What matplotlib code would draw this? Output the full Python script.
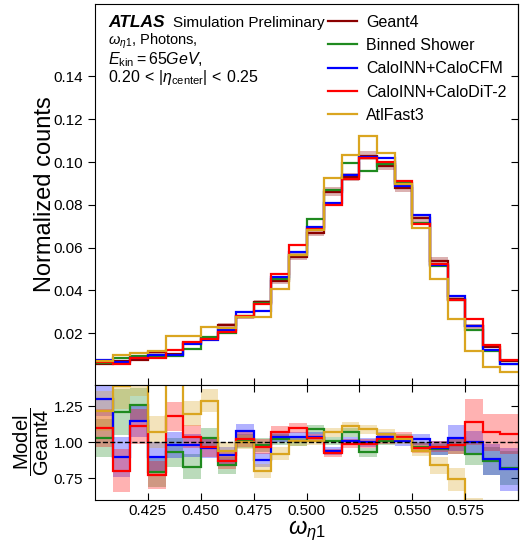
import numpy as np
import matplotlib.pyplot as plt

plt.rcParams['font.family'] = ['Liberation Sans', 'DejaVu Sans']
plt.rcParams['mathtext.fontset'] = 'custom'
plt.rcParams['mathtext.rm'] = 'Liberation Sans'
plt.rcParams['mathtext.it'] = 'Liberation Sans:italic'
plt.rcParams['mathtext.bf'] = 'Liberation Sans:bold'

# 24 bins between 0.40 and 0.60
edges = np.linspace(0.40, 0.60, 25)

# normalized counts
geant4 = [0.0057, 0.0070, 0.0074, 0.0110, 0.0101, 0.0153, 0.0176, 0.0236, 0.0276, 0.0345, 0.0444, 0.0558,
          0.0670, 0.0862, 0.0929, 0.1030, 0.0982, 0.0878, 0.0737, 0.0539, 0.0360, 0.0231, 0.0135, 0.0068]
geant4_err = [0.0004, 0.0005, 0.0005, 0.0006, 0.0006, 0.0007, 0.0008, 0.0009, 0.0010, 0.0011, 0.0013, 0.0015,
              0.0017, 0.0020, 0.0020, 0.0020, 0.0020, 0.0019, 0.0017, 0.0015, 0.0012, 0.0010, 0.0007, 0.0005]
binned = [0.0059, 0.0085, 0.0093, 0.0087, 0.0094, 0.0127, 0.0181, 0.0198, 0.0279, 0.0340, 0.0453, 0.0564,
          0.0733, 0.0871, 0.0994, 0.0958, 0.0990, 0.0904, 0.0715, 0.0512, 0.0353, 0.0213, 0.0117, 0.0056]
calo_cfm = [0.0074, 0.0063, 0.0085, 0.0099, 0.0099, 0.0150, 0.0169, 0.0215, 0.0298, 0.0302, 0.0462, 0.0580,
            0.0694, 0.0810, 0.0938, 0.1025, 0.1021, 0.0887, 0.0752, 0.0517, 0.0371, 0.0231, 0.0119, 0.0055]
calo_dit = [0.0063, 0.0056, 0.0082, 0.0085, 0.0119, 0.0159, 0.0170, 0.0205, 0.0282, 0.0335, 0.0475, 0.0614,
            0.0687, 0.0798, 0.0920, 0.1020, 0.1002, 0.0910, 0.0708, 0.0523, 0.0353, 0.0265, 0.0144, 0.0072]
atlfast3 = [0.0070, 0.0097, 0.0105, 0.0118, 0.0187, 0.0184, 0.0227, 0.0222, 0.0276, 0.0276, 0.0408, 0.0564,
            0.0680, 0.0925, 0.1031, 0.1123, 0.1041, 0.0896, 0.0693, 0.0453, 0.0266, 0.0117, 0.0042, 0.0018]

# model / Geant4
r_binned = [1.03, 1.21, 1.26, 0.79, 0.93, 0.83, 1.03, 0.84, 1.01, 0.98, 1.02, 1.01,
            1.09, 1.01, 1.07, 0.93, 1.01, 1.03, 0.97, 0.95, 0.98, 0.92, 0.87, 0.82]
r_cfm = [1.30, 0.90, 1.15, 0.90, 0.98, 0.98, 0.96, 0.91, 1.08, 0.875, 1.04, 1.04,
         1.04, 0.94, 1.01, 1.00, 1.04, 1.01, 1.02, 0.96, 1.03, 1.00, 0.88, 0.81]
r_dit = [1.10, 0.80, 1.11, 0.77, 1.18, 1.04, 0.965, 0.87, 1.02, 0.97, 1.07, 1.10,
         1.03, 0.925, 0.99, 0.99, 1.02, 1.04, 0.96, 0.97, 0.98, 1.14, 1.07, 1.06]
r_af3 = [1.22, 1.39, 1.45, 1.07, 1.85, 1.20, 1.29, 0.94, 1.00, 0.80, 0.92, 1.01,
         1.01, 1.07, 1.11, 1.09, 1.06, 1.02, 0.94, 0.84, 0.74, 0.51, 0.31, 0.26]

# ratio uncertainty (half width)
e_binned = [0.13, 0.16, 0.12, 0.10, 0.10, 0.09, 0.07, 0.06, 0.05, 0.05, 0.04, 0.035,
            0.03, 0.03, 0.03, 0.03, 0.03, 0.03, 0.035, 0.04, 0.06, 0.08, 0.10, 0.12]
e_cfm = [0.12, 0.14, 0.11, 0.10, 0.09, 0.08, 0.07, 0.06, 0.05, 0.05, 0.04, 0.035,
         0.03, 0.03, 0.03, 0.03, 0.03, 0.035, 0.04, 0.05, 0.09, 0.08, 0.11, 0.15]
e_dit = [0.13, 0.15, 0.12, 0.10, 0.10, 0.08, 0.07, 0.06, 0.05, 0.05, 0.04, 0.035,
         0.03, 0.03, 0.03, 0.03, 0.03, 0.03, 0.035, 0.04, 0.06, 0.16, 0.13, 0.14]
e_af3 = [0.14, 0.16, 0.13, 0.11, 0.12, 0.09, 0.08, 0.06, 0.05, 0.05, 0.045, 0.035,
         0.03, 0.03, 0.03, 0.03, 0.03, 0.03, 0.035, 0.06, 0.08, 0.10, 0.14, 0.18]

labels = ['Geant4', 'Binned Shower', 'CaloINN+CaloCFM', 'CaloINN+CaloDiT-2', 'AtlFast3']
colors = ['#8b0000', '#1f8a1f', '#0000ff', '#ff0000', '#daa520']

fig = plt.figure(figsize=(5.32, 5.44), dpi=100)
ax = fig.add_axes([0.1786, 0.2923, 0.7951, 0.7003])
axr = fig.add_axes([0.1786, 0.0818, 0.7951, 0.2105], sharex=ax)

g = np.array(geant4)
ge = np.array(geant4_err)
ax.stairs(g + ge, edges, baseline=g - ge, fill=True, color=colors[0], alpha=0.3, lw=0)
for vals, lab, c in zip([geant4, binned, calo_cfm, calo_dit, atlfast3], labels, colors):
    ax.stairs(vals, edges, baseline=None, color=c, lw=1.6, label=lab)

for r, e, c in zip([r_binned, r_cfm, r_dit, r_af3], [e_binned, e_cfm, e_dit, e_af3], colors[1:]):
    r = np.array(r)
    e = np.array(e)
    axr.stairs(r + e, edges, baseline=r - e, fill=True, color=c, alpha=0.3, lw=0)
for r, c in zip([r_binned, r_cfm, r_dit, r_af3], colors[1:]):
    axr.stairs(r, edges, baseline=None, color=c, lw=1.6)
axr.axhline(1.0, color='black', ls='--', lw=1.0)

ax.set_xlim(0.40, 0.60)
ax.set_ylim(-0.0043, 0.1739)
ax.set_yticks([0.02, 0.04, 0.06, 0.08, 0.10, 0.12, 0.14])
ax.set_ylabel('Normalized counts', fontsize=17)
ax.yaxis.set_label_coords(-0.093, 0.5)
ax.tick_params(axis='x', direction='in', labelbottom=False, length=5)
ax.tick_params(axis='y', direction='out', labelsize=11, length=5)
sec = ax.secondary_yaxis('right')
sec.set_yticks([0.02, 0.04, 0.06, 0.08, 0.10, 0.12, 0.14])
sec.tick_params(direction='in', labelright=False, length=5)

axr.set_ylim(0.6, 1.4)
axr.set_yticks([0.75, 1.00, 1.25])
axr.set_xticks([0.425, 0.450, 0.475, 0.500, 0.525, 0.550, 0.575])
axr.tick_params(axis='x', direction='in', top=True, labelsize=11, length=5)
axr.tick_params(axis='y', direction='out', labelsize=11, length=5)
secr = axr.secondary_yaxis('right')
secr.set_yticks([0.75, 1.00, 1.25])
secr.tick_params(direction='in', labelright=False, length=5)
axr.set_ylabel(r'$\dfrac{\mathrm{Model}}{\mathrm{Geant4}}$', fontsize=14.5)
axr.yaxis.set_label_coords(-0.105, 0.5)
axr.set_xlabel(r'$\omega_{\eta 1}$', fontsize=17, labelpad=0)

ax.text(0.031, 0.9396, 'ATLAS', transform=ax.transAxes, fontsize=12.5, fontweight='bold', fontstyle='italic')
ax.text(0.184, 0.9396, 'Simulation Preliminary', transform=ax.transAxes, fontsize=11)
ax.text(0.031, 0.8924, r'$\omega_{\eta 1}$, Photons,', transform=ax.transAxes, fontsize=10.5)
ax.text(0.031, 0.8412, r'$E_{\mathrm{kin}} = 65 GeV$,', transform=ax.transAxes, fontsize=11.5)
ax.text(0.031, 0.7966, r'$0.20\,<\,|\eta_{\mathrm{center}}|\,<\,0.25$', transform=ax.transAxes, fontsize=11.5)

ax.legend(loc='upper left', bbox_to_anchor=(0.551, 0.972), frameon=False, fontsize=11.5,
          handlelength=1.8, handletextpad=0.6, labelspacing=0.52, borderpad=0, borderaxespad=0)

fig.savefig('out.png', dpi=100)
